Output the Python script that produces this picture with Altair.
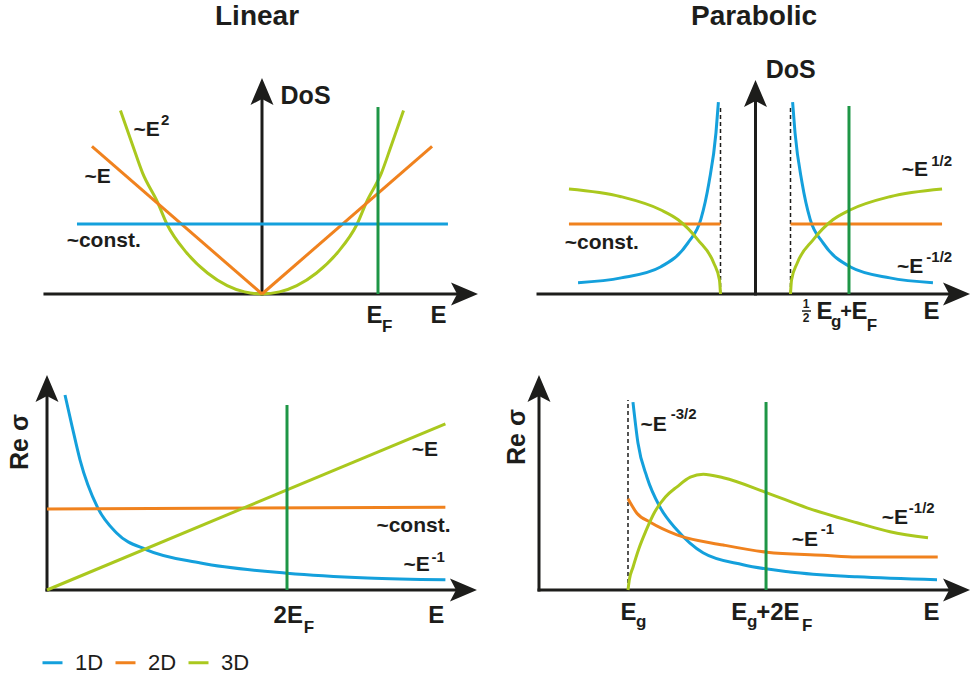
import altair as alt
import pandas as pd

BLUE = "#14a0dc"
ORANGE = "#f0821e"
LIME = "#aac81e"
FGREEN = "#1e9646"
INK = "#1d1d1b"
FONT = "Liberation Sans"
DIMS = ["1D", "2D", "3D"]

# ---------------- Top-left : Linear dispersion, density of states ----------------
TL_3D_E = [-1.22, -1.11, -1.03, -0.9, -0.82, -0.65, -0.47, -0.3, -0.15, 0.0,
           0.15, 0.3, 0.47, 0.65, 0.82, 0.9, 1.03, 1.11, 1.22]
TL_3D_D = [2.62, 2.10, 1.73, 1.31, 1.0, 0.59, 0.30, 0.12, 0.03, 0.0,
           0.03, 0.12, 0.30, 0.59, 1.0, 1.31, 1.73, 2.10, 2.62]
TL_2D_L_E = [-1.466, 0.0]
TL_2D_L_D = [2.11, 0.0]
TL_2D_R_E = [0.0, 1.466]
TL_2D_R_D = [0.0, 2.11]
TL_1D_E = [-1.595, 1.603]
TL_1D_D = [1.0, 1.0]

# ---------------- Top-right : Parabolic dispersion, density of states ----------------
TR_1D_E = [1.06, 1.13, 1.33, 1.56, 1.93, 2.7, 3.84, 5.07]
TR_1D_D = [2.74, 2.30, 1.59, 1.07, 0.73, 0.39, 0.23, 0.16]
TR_3D_E = [1.0, 1.03, 1.19, 1.64, 2.21, 2.7, 3.84, 5.33]
TR_3D_D = [0.0, 0.20, 0.44, 0.77, 1.06, 1.20, 1.39, 1.50]
TR_2D_E = [1.0, 5.33]
TR_2D_D = [1.0, 1.0]

# ---------------- Bottom-left : Linear dispersion, Re sigma ----------------
BL_1D_E = [0.15, 0.21, 0.275, 0.42, 0.58, 0.83, 1.28, 2.0, 2.67, 3.32]
BL_1D_R = [3.25, 2.72, 2.17, 1.38, 0.95, 0.67, 0.45, 0.28, 0.20, 0.17]
BL_2D_E = [0.0, 3.32]
BL_2D_R = [1.35, 1.38]
BL_3D_E = [0.0, 3.32]
BL_3D_R = [0.0, 2.77]

# ---------------- Bottom-right : Parabolic dispersion, Re sigma ----------------
BR_1D_E = [1.056, 1.112, 1.213, 1.36, 1.551, 1.843, 2.292, 2.82, 3.573, 4.472]
BR_1D_R = [3.13, 2.45, 1.88, 1.38, 1.0, 0.62, 0.42, 0.30, 0.22, 0.17]
BR_2D_E = [1.0, 1.1, 1.25, 1.55, 2.07, 2.56, 3.19, 3.57, 4.48]
BR_2D_R = [1.52, 1.28, 1.13, 0.92, 0.75, 0.63, 0.58, 0.55, 0.55]
BR_3D_E = [1.0, 1.015, 1.056, 1.12, 1.2, 1.3, 1.42, 1.551, 1.70, 1.846, 2.07, 2.562, 3.011, 3.573, 3.944, 4.371]
BR_3D_R = [0.0, 0.17, 0.38, 0.68, 0.98, 1.30, 1.55, 1.72, 1.88, 1.93, 1.87, 1.62, 1.37, 1.12, 0.97, 0.87]

# markers: Fermi level line (x, top) and gap edges
TL_FERMI = (1.0, 2.671)
TR_FERMI = (2.671, 2.686)
BL_FERMI = (2.0, 3.083)
BR_FERMI = (2.551, 3.133)
TR_GAP = ([-1.0, 1.0], 2.7)
BR_GAP = ([1.0], 3.167)

# axis extents (horizontal start, horizontal tip, vertical tip)
TL_AX = (-1.871, 1.862, 3.086)
TR_AX = (-6.214, 6.129, 3.057)
BL_AX = (0.0, 3.583, 3.583)
BR_AX = (0.0, 4.843, 3.583)

# labels: (text, x, y, font size)
TL_LAB = [("~E", -1.53, 1.671, 21), ("~E", -1.107, 2.343, 21), ("2", -0.87, 2.486, 15),
          ("~const.", -1.684, 0.757, 21), ("DoS", 0.16, 2.829, 25),
          ("E", 0.9, -0.314, 24), ("F", 1.035, -0.471, 17), ("E", 1.452, -0.314, 24)]
TL_CEN = [("Linear", -0.043, 3.956, 28)]
TR_LAB = [("~E", 4.18, 1.771, 21), ("1/2", 5.02, 1.9, 15), ("~E", 4.04, 0.386, 21),
          ("-1/2", 4.88, 0.529, 15), ("~const.", -5.45, 0.729, 21), ("DoS", 0.29, 3.2, 25),
          ("E", 1.74, -0.257, 24), ("g", 2.16, -0.4, 17), ("+", 2.42, -0.257, 20),
          ("E", 2.74, -0.257, 24), ("F", 3.18, -0.457, 17), ("E", 4.80, -0.257, 24)]
TR_CEN = [("Parabolic", -0.043, 3.956, 28), ("1", 1.443, -0.143, 12), ("2", 1.443, -0.343, 12)]
TR_BAR = (1.329, 1.586, -0.243)
BL_LAB = [("~E", 3.04, 2.333, 21), ("~const.", 2.745, 1.067, 21), ("~E", 2.97, 0.417, 21),
          ("-1", 3.205, 0.55, 15), ("2E", 1.888, -0.433, 24), ("F", 2.14, -0.633, 17),
          ("E", 3.178, -0.433, 24)]
BL_ROT = [("Re σ", -0.225, 2.467, 25)]
BR_LAB = [("~E", 1.14, 2.75, 21), ("-3/2", 1.48, 2.933, 15), ("~E", 2.84, 0.833, 21),
          ("-1", 3.165, 1.017, 15), ("~E", 3.85, 1.2, 21), ("-1/2", 4.155, 1.367, 15),
          ("E", 0.915, -0.383, 24), ("g", 1.09, -0.533, 17), ("E", 2.16, -0.383, 24),
          ("g", 2.337, -0.533, 17), ("+2E", 2.44, -0.383, 24), ("F", 2.955, -0.6, 17),
          ("E", 4.32, -0.383, 24)]
BR_ROT = [("Re σ", -0.247, 2.55, 25)]

RIGHT_ARROW = "M 1 0 L -1 -0.85 L -0.55 0 L -1 0.85 Z"
UP_ARROW = "M 0 -1 L -0.85 1 L 0 0.55 L 0.85 1 Z"

LEGEND = alt.Legend(orient="none", legendX=41, legendY=651, direction="horizontal", title=None,
                    labelFont=FONT, labelFontSize=22, labelColor=INK, labelOffset=11,
                    symbolType="stroke", symbolSize=400, symbolStrokeWidth=3,
                    columnPadding=5, padding=0)
COLOR = alt.Color("dim:N", scale=alt.Scale(domain=DIMS, range=[BLUE, ORANGE, LIME]), legend=LEGEND)


def curves_df(spec):
    rows = []
    for dim, seg, xs, ys in spec:
        for a, b in zip(xs, ys):
            rows.append({"dim": dim, "seg": seg, "x": a, "y": b})
    return pd.DataFrame(rows)


def lab_df(items):
    return pd.DataFrame([{"t": t, "x": a, "y": b, "fs": f} for t, a, b, f in items])


def panel(w, h, xdom, ydom, curves, ax, fermi, gap=None, labels=(), centered=(), rotated=(), bar=None):
    xs = alt.Scale(domain=xdom, nice=False, zero=False)
    ys = alt.Scale(domain=ydom, nice=False, zero=False)
    X = alt.X("x:Q", scale=xs, axis=None)
    Y = alt.Y("y:Q", scale=ys, axis=None)
    layers = []
    x0, xtip, ytip = ax
    layers.append(alt.Chart(pd.DataFrame([{"x": x0, "x2": xtip, "y": 0.0}])).mark_rule(
        color=INK, strokeWidth=3, strokeCap="square", x2Offset=-12).encode(x=X, x2="x2:Q", y=Y))
    layers.append(alt.Chart(pd.DataFrame([{"x": 0.0, "y": 0.0, "y2": ytip}])).mark_rule(
        color=INK, strokeWidth=3, strokeCap="square", y2Offset=12).encode(x=X, y=Y, y2="y2:Q"))
    if gap is not None:
        gx, gtop = gap
        layers.append(alt.Chart(pd.DataFrame([{"x": g, "y": 0.0, "y2": gtop} for g in gx])).mark_rule(
            color=INK, strokeWidth=1.5, strokeDash=[4, 3]).encode(x=X, y=Y, y2="y2:Q"))
    layers.append(alt.Chart(curves_df(curves)).mark_line(
        strokeWidth=3, interpolate="monotone").encode(x=X, y=Y, color=COLOR, detail="seg:N"))
    layers.append(alt.Chart(pd.DataFrame([{"x": fermi[0], "y": 0.0, "y2": fermi[1]}])).mark_rule(
        color=FGREEN, strokeWidth=3).encode(x=X, y=Y, y2="y2:Q"))
    layers.append(alt.Chart(pd.DataFrame([{"x": xtip, "y": 0.0}])).mark_point(
        shape=RIGHT_ARROW, filled=True, size=729, color=INK, opacity=1, strokeWidth=0,
        xOffset=-13.5).encode(x=X, y=Y))
    layers.append(alt.Chart(pd.DataFrame([{"x": 0.0, "y": ytip}])).mark_point(
        shape=UP_ARROW, filled=True, size=729, color=INK, opacity=1, strokeWidth=0,
        yOffset=13.5).encode(x=X, y=Y))
    if bar is not None:
        layers.append(alt.Chart(pd.DataFrame([{"x": bar[0], "x2": bar[1], "y": bar[2]}])).mark_rule(
            color=INK, strokeWidth=1.5).encode(x=X, x2="x2:Q", y=Y))
    if labels:
        layers.append(alt.Chart(lab_df(labels)).mark_text(
            align="left", baseline="middle", font=FONT, fontWeight="bold", color=INK).encode(
            x=X, y=Y, text="t:N", size=alt.Size("fs:Q", scale=None)))
    if centered:
        layers.append(alt.Chart(lab_df(centered)).mark_text(
            align="center", baseline="middle", font=FONT, fontWeight="bold", color=INK).encode(
            x=X, y=Y, text="t:N", size=alt.Size("fs:Q", scale=None)))
    if rotated:
        layers.append(alt.Chart(lab_df(rotated)).mark_text(
            align="center", baseline="middle", font=FONT, fontWeight="bold", color=INK, angle=270).encode(
            x=X, y=Y, text="t:N", size=alt.Size("fs:Q", scale=None)))
    return alt.layer(*layers).properties(width=w, height=h)


neg = lambda v: [-a for a in v]

tl = panel(485, 340, [-2.2586, 1.9224], [-0.6571, 4.2],
           [("3D", "a", TL_3D_E, TL_3D_D), ("2D", "b", TL_2D_L_E, TL_2D_L_D),
            ("2D", "c", TL_2D_R_E, TL_2D_R_D), ("1D", "d", TL_1D_E, TL_1D_D)],
           TL_AX, TL_FERMI, labels=TL_LAB, centered=TL_CEN)

tr = panel(486, 340, [-7.7286, 6.1571], [-0.6571, 4.2],
           [("1D", "a", TR_1D_E, TR_1D_D), ("1D", "b", neg(TR_1D_E), TR_1D_D),
            ("2D", "c", TR_2D_E, TR_2D_D), ("2D", "d", neg(TR_2D_E), TR_2D_D),
            ("3D", "e", TR_3D_E, TR_3D_D), ("3D", "f", neg(TR_3D_E), TR_3D_D)],
           TR_AX, TR_FERMI, gap=TR_GAP, labels=TR_LAB, centered=TR_CEN, bar=TR_BAR)

bl = panel(485, 340, [-0.3917, 3.65], [-1.5, 4.1667],
           [("1D", "a", BL_1D_E, BL_1D_R), ("2D", "b", BL_2D_E, BL_2D_R), ("3D", "c", BL_3D_E, BL_3D_R)],
           BL_AX, BL_FERMI, labels=BL_LAB, rotated=BL_ROT)

br = panel(486, 340, [-0.6067, 4.8539], [-1.5, 4.1667],
           [("1D", "a", BR_1D_E, BR_1D_R), ("2D", "b", BR_2D_E, BR_2D_R), ("3D", "c", BR_3D_E, BR_3D_R)],
           BR_AX, BR_FERMI, gap=BR_GAP, labels=BR_LAB, rotated=BR_ROT)

chart = alt.concat(tl, tr, bl, br, columns=2, spacing=0, bounds="flush").properties(
    padding=0, background="white").configure_view(strokeWidth=0)

chart.save("out.html", embed_options={"renderer": "svg", "actions": False})
